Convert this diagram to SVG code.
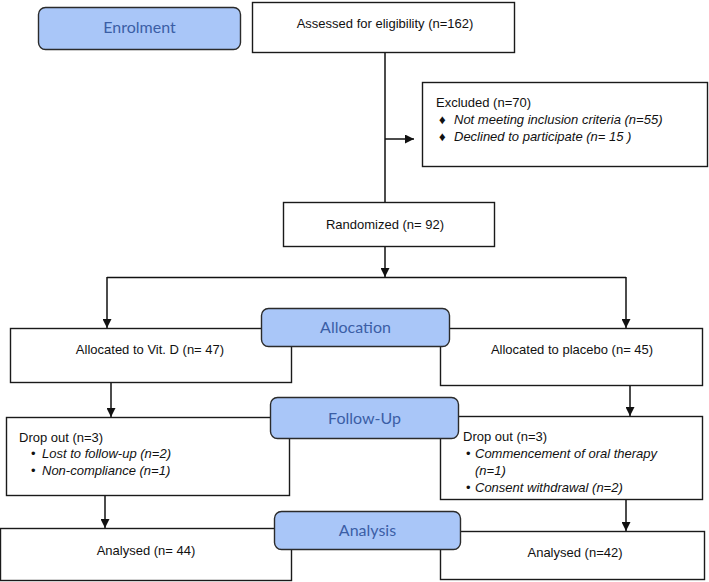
<svg xmlns="http://www.w3.org/2000/svg" width="709" height="582" viewBox="0 0 709 582">
<style>
.box{fill:#fff;stroke:#1a1a1a;stroke-width:1.4}
.stage{fill:#a9c6f8;stroke:#2b2b2b;stroke-width:1.4}
.t{font-family:"Liberation Sans",Arial,sans-serif;font-size:13px;fill:#111}
.i{font-style:italic}
.st{font-family:Lato,"Open Sans",sans-serif;font-size:16px;fill:#3b5ea6;text-anchor:middle}
.c{text-anchor:middle}
.ln{fill:none;stroke:#111;stroke-width:1.5}
</style>
<defs>
<marker id="ah" viewBox="0 0 10 10" refX="10" refY="5" markerWidth="9" markerHeight="9" markerUnits="userSpaceOnUse" orient="auto">
<path d="M0,0 L10,5 L0,10 z" fill="#111"/>
</marker>
</defs>
<g id="connectors">
<line class="ln" x1="385" y1="53" x2="385" y2="202"/>
<line class="ln" x1="385" y1="139" x2="414" y2="139" marker-end="url(#ah)"/>
<line class="ln" x1="385" y1="247" x2="385" y2="277" marker-end="url(#ah)"/>
<line class="ln" x1="107" y1="277.5" x2="626" y2="277.5"/>
<line class="ln" x1="107" y1="277" x2="107" y2="328" marker-end="url(#ah)"/>
<line class="ln" x1="626" y1="277" x2="626" y2="328" marker-end="url(#ah)"/>
<line class="ln" x1="111" y1="383" x2="111" y2="417" marker-end="url(#ah)"/>
<line class="ln" x1="630" y1="386" x2="630" y2="416" marker-end="url(#ah)"/>
<line class="ln" x1="105" y1="495" x2="105" y2="528" marker-end="url(#ah)"/>
<line class="ln" x1="626" y1="499" x2="626" y2="531" marker-end="url(#ah)"/>
</g>
<g id="assessed">
<rect class="box" x="252.5" y="2.5" width="262" height="50"/>
<text class="t c" x="385" y="28">Assessed for eligibility (n=162)</text>
</g>
<g id="excluded">
<rect class="box" x="422.5" y="82.5" width="285" height="84"/>
<text class="t" x="436" y="107">Excluded (n=70)</text>
<text class="t" x="439" y="124" font-size="9">♦</text>
<text class="t i" x="454" y="124">Not meeting inclusion criteria (n=55)</text>
<text class="t" x="439" y="141" font-size="9">♦</text>
<text class="t i" x="454" y="141">Declined to participate (n= 15 )</text>
</g>
<g id="randomized">
<rect class="box" x="283.5" y="202.5" width="211" height="44"/>
<text class="t c" x="385" y="229">Randomized (n= 92)</text>
</g>
<g id="alloc-vitd">
<rect class="box" x="10.5" y="328.5" width="281" height="54"/>
<text class="t c" x="150" y="354">Allocated to Vit. D (n= 47)</text>
</g>
<g id="alloc-placebo">
<rect class="box" x="440.5" y="328.5" width="262" height="57"/>
<text class="t c" x="572" y="354">Allocated to placebo (n= 45)</text>
</g>
<g id="dropout-vitd">
<rect class="box" x="6.5" y="417.5" width="283" height="78"/>
<text class="t" x="19" y="442">Drop out (n=3)</text>
<text class="t" x="31" y="458">•</text>
<text class="t i" x="42" y="458">Lost to follow-up (n=2)</text>
<text class="t" x="31" y="475">•</text>
<text class="t i" x="42" y="475">Non-compliance (n=1)</text>
</g>
<g id="dropout-placebo">
<rect class="box" x="440.5" y="416.5" width="262" height="83"/>
<text class="t" x="463" y="441">Drop out (n=3)</text>
<text class="t" x="466" y="458">•</text>
<text class="t i" x="475" y="458">Commencement of oral therapy</text>
<text class="t i" x="475" y="475">(n=1)</text>
<text class="t" x="466" y="492">•</text>
<text class="t i" x="475" y="492">Consent withdrawal (n=2)</text>
</g>
<g id="analysed-vitd">
<rect class="box" x="0.5" y="528.5" width="291" height="52"/>
<text class="t c" x="146" y="555">Analysed (n= 44)</text>
</g>
<g id="analysed-placebo">
<rect class="box" x="440.5" y="531.5" width="264" height="48"/>
<text class="t c" x="575" y="557">Analysed (n=42)</text>
</g>
<g id="enrolment">
<rect class="stage" x="38.5" y="7.5" width="202" height="42" rx="7"/>
<text class="st" x="139.5" y="33">Enrolment</text>
</g>
<g id="allocation">
<rect class="stage" x="261.5" y="308.5" width="188" height="38" rx="7"/>
<text class="st" x="355.5" y="333">Allocation</text>
</g>
<g id="follow-up">
<rect class="stage" x="270.5" y="397.5" width="188" height="41" rx="7"/>
<text class="st" x="364.5" y="424">Follow-Up</text>
</g>
<g id="analysis">
<rect class="stage" x="274.5" y="511.5" width="186" height="38" rx="7"/>
<text class="st" x="367.5" y="536">Analysis</text>
</g>
</svg>
